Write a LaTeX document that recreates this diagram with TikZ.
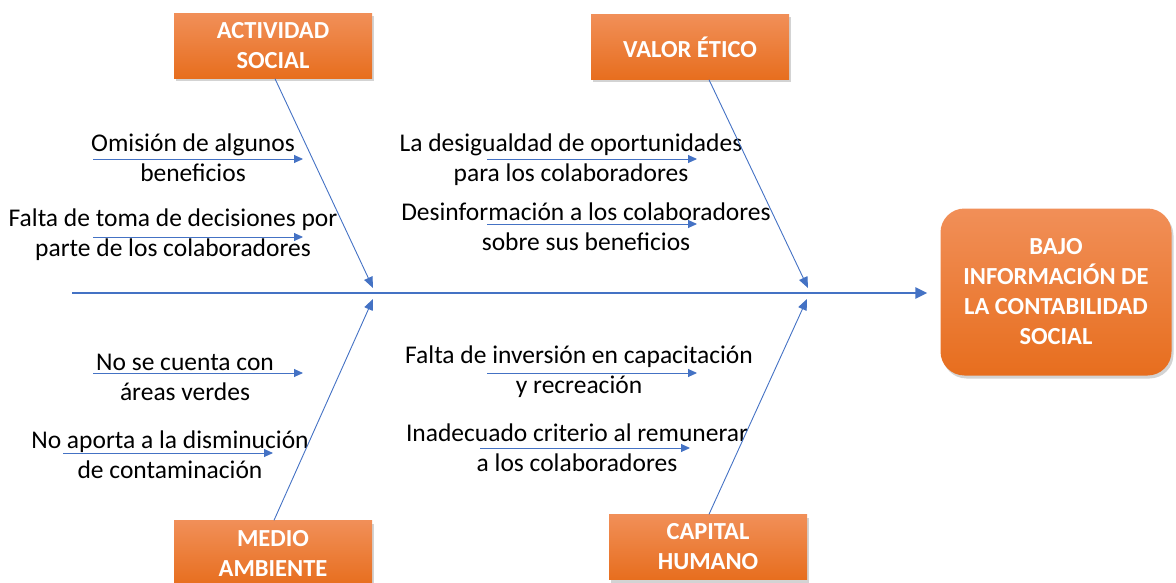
\documentclass[tikz,border=0pt]{standalone}
\usepackage{fontspec}
\setmainfont{Carlito}
\usetikzlibrary{shapes}
\usetikzlibrary{arrows.meta}
\usetikzlibrary{shadows}
\definecolor{fish_blue}{RGB}{68,114,196}
\definecolor{box_top}{RGB}{241,143,88}
\definecolor{box_bottom}{RGB}{231,110,30}
\tikzset{
	cause_box/.style = {
		rectangle,
		align=center,
		inner sep=0pt,
		text=white,
		font=\fontsize{24.5}{30}\selectfont\bfseries,
		top color=box_top,
		bottom color=box_bottom,
		minimum width=198pt,
		minimum height=65pt,
		drop shadow={shadow xshift=2pt, shadow yshift=-3pt, opacity=0.35}
	},
	effect_box/.style = {
		cause_box,
		rounded corners=24pt,
		minimum width=231pt,
		minimum height=167pt
	},
	cause_text/.style = {
		align=center,
		inner sep=0pt,
		font=\fontsize{25.5}{30}\selectfont
	},
	spine/.style = {
		draw=fish_blue,
		line width=2.5pt,
		-{Triangle[length=12pt, width=11pt]}
	},
	bone/.style = {
		draw=fish_blue,
		line width=0.9pt,
		-{Triangle[length=11pt, width=9pt]}
	},
	rib/.style = {
		draw=fish_blue,
		line width=0.9pt,
		-{Triangle[length=9pt, width=8pt]}
	},
}

\begin{document}
\begin{tikzpicture}[x=1pt, y=-1pt]
\useasboundingbox (0,0) rectangle (1176,583);

\node [cause_box] (actividad) at (273,46) {ACTIVIDAD\\SOCIAL};
\node [cause_box] (valor) at (690,47) {VALOR ÉTICO};
\node [cause_box] (medio) at (273,553) {MEDIO\\AMBIENTE};
\node [cause_box] (capital) at (708,547) {CAPITAL\\HUMANO};
\node [effect_box] (efecto) at (1056,292) {BAJO\\INFORMACIÓN DE\\LA CONTABILIDAD\\SOCIAL};

\node [cause_text] (omision) at (193,158) {Omisión de algunos\\beneficios};
\node [cause_text] (decisiones) at (173,235) {Falta de toma de decisiones por\\parte de los colaboradores};
\node [cause_text] (desigualdad) at (571,160) {La desigualdad de oportunidades\\para los colaboradores};
\node [cause_text] (desinformacion) at (586,227) {Desinformación a los colaboradores\\sobre sus beneficios};
\node [cause_text] (areas) at (185,377) {No se cuenta con\\áreas verdes};
\node [cause_text] (contaminacion) at (170,455) {No aporta a la disminución\\de contaminación};
\node [cause_text] (inversion) at (579,372) {Falta de inversión en capacitación\\y recreación};
\node [cause_text] (criterio) at (577,448) {Inadecuado criterio al remunerar\\a los colaboradores};

\coordinate (cola) at (72,293);
\coordinate (punta_actividad) at (373,288);
\coordinate (punta_medio) at (373,299);
\coordinate (punta_valor) at (808,288);
\coordinate (punta_capital) at (807,299);

\coordinate (omision_a) at (93,159);
\coordinate (omision_b) at (303,159);
\coordinate (decisiones_a) at (93,237);
\coordinate (decisiones_b) at (303,237);
\coordinate (desigualdad_a) at (487,159);
\coordinate (desigualdad_b) at (697,159);
\coordinate (desinformacion_a) at (487,224);
\coordinate (desinformacion_b) at (697,224);
\coordinate (areas_a) at (93,373);
\coordinate (areas_b) at (303,373);
\coordinate (contaminacion_a) at (63,453);
\coordinate (contaminacion_b) at (273,453);
\coordinate (inversion_a) at (487,373);
\coordinate (inversion_b) at (697,373);
\coordinate (criterio_a) at (480,448);
\coordinate (criterio_b) at (690,448);

\draw [spine, shorten >=13pt] (cola) -- (efecto.west |- cola);

\draw [bone] ([xshift=2pt]actividad.south) -- (punta_actividad);
\draw [bone] ([xshift=19pt]valor.south) -- (punta_valor);
\draw [bone] ([xshift=1pt]medio.north) -- (punta_medio);
\draw [bone] ([xshift=1pt]capital.north) -- (punta_capital);

\draw [rib] (omision_a) -- (omision_b);
\draw [rib] (decisiones_a) -- (decisiones_b);
\draw [rib] (desigualdad_a) -- (desigualdad_b);
\draw [rib] (desinformacion_a) -- (desinformacion_b);
\draw [rib] (areas_a) -- (areas_b);
\draw [rib] (contaminacion_a) -- (contaminacion_b);
\draw [rib] (inversion_a) -- (inversion_b);
\draw [rib] (criterio_a) -- (criterio_b);
\end{tikzpicture}
\end{document}
